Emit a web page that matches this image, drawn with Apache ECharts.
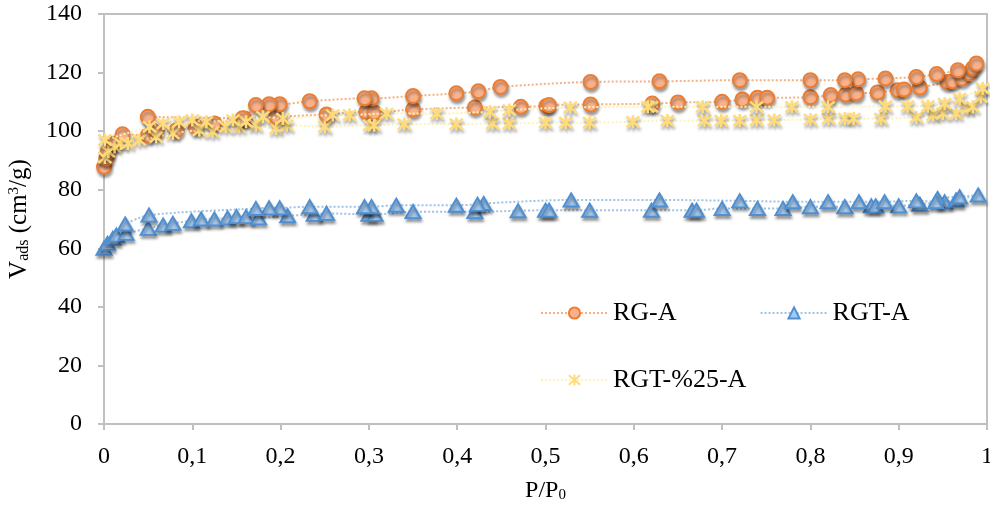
<!DOCTYPE html>
<html>
<head>
<meta charset="utf-8">
<script src="https://cdn.jsdelivr.net/npm/echarts@6/dist/echarts.min.js"></script>
<style>
html,body{margin:0;padding:0;background:#fff;}
#chart{width:990px;height:512px;}
</style>
</head>
<body>
<div id="chart"></div>
<script>
// ---- Data (P/P0, Vads) ----
var seriesNames = ['RG-A', 'RGT-A', 'RGT-%25-A'];
var xTicks = ['0','0,1','0,2','0,3','0,4','0,5','0,6','0,7','0,8','0,9','1'];
var yTicks = [0,20,40,60,80,100,120,140];

var rgA = [
  [0,87.8],[0.0025,90.7],[0.004,92.9],[0.012,95.8],[0.021,98.9],[0.0496,98.6],[0.059,99.8],[0.082,100.3],
  [0.104,101.5],[0.125,102.6],[0.159,104.3],[0.195,104.9],[0.252,105.7],[0.297,106.6],[0.306,106.4],
  [0.35,107.4],[0.42,108.1],[0.472,108.3],[0.501,108.6],[0.504,108.9],[0.551,109.1],[0.621,109.4],
  [0.65,109.8],[0.70,110],[0.723,110.8],[0.74,111.4],[0.751,111.4],[0.80,111.6],[0.823,112.3],[0.84,112.5],
  [0.852,112.9],[0.876,113.2],[0.899,114],[0.906,114.2],[0.924,114.9],[0.955,116.8],[0.961,117],
  [0.972,118],[0.98,119.8],[0.984,121.5],[0.988,123.1],
  [0.967,120.8],[0.943,119.5],[0.92,118.5],[0.885,118],[0.854,117.7],[0.839,117.4],[0.80,117.4],
  [0.72,117.4],[0.629,117],[0.551,116.8],[0.449,115.1],[0.424,113.6],[0.399,112.9],[0.35,112],
  [0.303,111.2],[0.295,111.2],[0.233,110.2],[0.199,109.2],[0.187,109.2],[0.172,108.9],[0.157,104.4],[0.0496,104.9]
];
var rgtA = [
  [0,60],[0.004,61.7],[0.01,63.4],[0.014,64.5],[0.025,65.1],[0.05,66.8],[0.067,67.9],[0.078,68.5],
  [0.099,69.4],[0.11,70],[0.125,70],[0.14,70.4],[0.15,70.8],[0.161,70.8],[0.175,70.4],[0.208,71.1],
  [0.238,71.6],[0.252,71.9],[0.30,71.6],[0.307,71.6],[0.35,72.5],[0.42,72.5],[0.469,72.8],[0.50,73.0],
  [0.504,73.0],[0.55,73.0],[0.62,73.0],[0.666,73.0],[0.671,73.0],[0.70,73.6],[0.74,73.6],[0.769,73.6],
  [0.80,74.2],[0.839,74.2],[0.869,74.5],[0.874,74.5],[0.90,74.5],[0.924,75],[0.952,75.9],[0.965,76.5],
  [0.99,78.2],
  [0.969,77.6],[0.944,77],[0.942,75.9],[0.92,76.2],[0.884,75.9],[0.855,75.9],[0.82,75.9],[0.78,75.9],
  [0.72,76.2],[0.629,76.5],[0.529,76.5],[0.43,75.3],[0.423,75],[0.399,74.7],[0.331,74.7],[0.303,74.2],
  [0.295,74.2],[0.233,74.2],[0.199,73.8],[0.187,73.8],[0.172,73.6],[0.051,71.3],[0.024,68.3]
];
var rgt25A = [
  [0.001,91],[0.005,93],[0.012,94.6],[0.019,95.8],[0.027,95.8],[0.04,97],[0.059,98],[0.078,99.2],
  [0.108,100.3],[0.123,99.8],[0.138,101.5],[0.153,101.5],[0.172,102],[0.195,100.9],[0.207,102],
  [0.25,101.5],[0.301,102],[0.306,102],[0.34,102.4],[0.399,102.4],[0.44,102.6],[0.459,102.6],[0.50,102.9],
  [0.523,102.9],[0.55,102.9],[0.599,103.2],[0.638,103.6],[0.68,103.6],[0.699,103.6],[0.72,103.6],
  [0.739,103.8],[0.759,103.8],[0.80,104],[0.8205,104.3],[0.839,104.3],[0.849,104.3],[0.88,104.3],
  [0.92,104.7],[0.939,105.5],[0.95,106],[0.965,106],[0.978,107.7],[0.984,108.3],[0.993,111.7],[0.995,114.6],
  [0.969,111.1],[0.952,109.4],[0.933,108.5],[0.91,108.5],[0.885,108.5],[0.82,108.3],[0.779,108.3],
  [0.739,108.3],[0.678,108.3],[0.62,108.3],[0.616,108.3],[0.528,108.1],[0.459,107.2],[0.437,106.6],
  [0.377,106],[0.32,106],[0.278,105.5],[0.259,105.5],[0.2025,104.3],[0.18,104.9],[0.161,103.2],
  [0.146,103.8],[0.116,103.2],[0.1,103.8],[0.085,103.2],[0.067,102.6],[0.0515,101.5],[0.001,97]
];

var FONT = "'Liberation Serif','Times New Roman',serif";
var shadow = {shadowColor:'rgba(0,0,0,0.35)', shadowBlur:3, shadowOffsetX:1, shadowOffsetY:3};
var asterisk = 'path://M0,0L10,10M10,0L0,10M5,-1L5,11';

var chart = echarts.init(document.getElementById('chart'), null, {renderer:'canvas'});
chart.setOption({
  animation: false,
  backgroundColor: '#fff',
  grid: {left:104, right:3, top:14, bottom:88, show:true, borderColor:'#c0c0c0', borderWidth:2,
         containLabel:false, outerBoundsMode:'none'},
  legend: [
    {data:['RG-A','RGT-A'], left:535, top:295, itemWidth:67, itemHeight:14, itemGap:83,
     textStyle:{fontFamily:FONT, fontSize:26, color:'#000'}, selectedMode:false},
    {data:['RGT-%25-A'], left:535, top:362, itemWidth:67, itemHeight:14,
     textStyle:{fontFamily:FONT, fontSize:26, color:'#000'}, selectedMode:false}
  ],
  xAxis: {
    type:'value', min:0, max:1, interval:0.1,
    name:'{a|P/P}{s|0}', nameLocation:'middle', nameGap:55,
    nameTextStyle:{fontFamily:FONT, fontSize:24, color:'#000',
      rich:{a:{fontFamily:FONT, fontSize:24, color:'#000'}, s:{fontFamily:FONT, fontSize:15, color:'#000', verticalAlign:'bottom', padding:[9,0,0,0]}}},
    axisLine:{lineStyle:{color:'#c0c0c0', width:2}},
    axisTick:{show:true, length:6, lineStyle:{color:'#c0c0c0', width:2}},
    splitLine:{show:false},
    axisLabel:{fontFamily:FONT, fontSize:24, color:'#000', margin:21, hideOverlap:false,
      formatter:function(v){ return xTicks[Math.round(v*10)]; }}
  },
  yAxis: {
    type:'value', min:0, max:140, interval:20,
    name:'{v|V}{s|ads}{v| (cm}{p|3}{v|/g)}', nameLocation:'middle', nameGap:72,
    nameTextStyle:{fontFamily:FONT, fontSize:25, color:'#000',
      rich:{v:{fontFamily:FONT, fontSize:25, color:'#000'},
            s:{fontFamily:FONT, fontSize:16, color:'#000', verticalAlign:'bottom', padding:[9,0,0,0]},
            p:{fontFamily:FONT, fontSize:15, color:'#000', verticalAlign:'top', padding:[0,0,8,0]}}},
    axisLine:{show:true, lineStyle:{color:'#c0c0c0', width:2}},
    axisTick:{show:true, length:6, lineStyle:{color:'#c0c0c0', width:2}},
    splitLine:{show:false},
    axisLabel:{fontFamily:FONT, fontSize:24, color:'#000', margin:22,
      formatter:function(v){ return String(yTicks[Math.round(v/20)]); }}
  },
  series: [
    {name:'RG-A', type:'line', data:rgA, smooth:0.3, showAllSymbol:true,
     symbol:'circle', symbolSize:14,
     lineStyle:{type:'dotted', width:2, color:'#f4b183'},
     itemStyle:Object.assign({color:'#f8b18a', borderColor:'#ed7d31', borderWidth:2}, shadow), z:2},
    {name:'RGT-A', type:'line', data:rgtA, smooth:0.3, showAllSymbol:true,
     symbol:'triangle', symbolSize:[15,13],
     lineStyle:{type:'dotted', width:2, color:'#9dc3e6'},
     itemStyle:Object.assign({color:'#a4c9ef', borderColor:'#4f8fd2', borderWidth:2}, shadow), z:2},
    {name:'RGT-%25-A', type:'line', data:rgt25A, smooth:0.3, showAllSymbol:true,
     symbol:asterisk, symbolSize:13,
     lineStyle:{type:'dotted', width:2, color:'#fff2b3'},
     itemStyle:Object.assign({color:'rgba(0,0,0,0)', borderColor:'#ffdb7a', borderWidth:2.5}, shadow), z:3}
  ]
});
</script>
</body>
</html>
